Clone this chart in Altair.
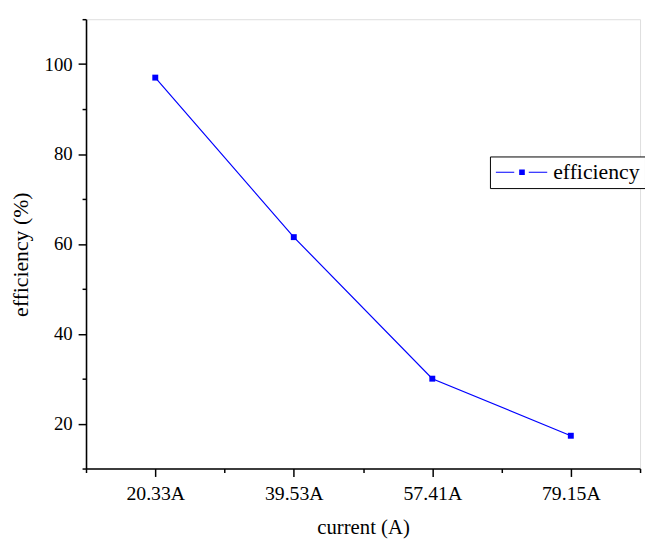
import altair as alt
import pandas as pd

# ---- data ----
categories = ["20.33A", "39.53A", "57.41A", "79.15A"]
efficiency = [97.0, 61.5, 30.0, 17.3]
series = ["efficiency", "efficiency", "efficiency", "efficiency"]
y_major = [20, 40, 60, 80, 100]
y_minor = [10, 30, 50, 70, 90, 110]
x_major = [1, 2, 3, 4]
x_minor = [0.5, 1.5, 2.5, 3.5, 4.5]

df = pd.DataFrame({
    "pos": list(range(1, len(categories) + 1)),
    "category": categories,
    "efficiency": efficiency,
    "series": series,
})

FONT = "Liberation Serif"
BLUE = "#0000ff"
label_expr = "[" + ",".join(f"'{c}'" for c in categories) + "][datum.value - 1]"

x_scale = alt.Scale(domain=[0.5, 4.5], nice=False, zero=False)
y_scale = alt.Scale(domain=[10, 110], nice=False, zero=False)

axis_common = dict(
    grid=False, domainColor="black", domainWidth=1.6, tickColor="black",
    tickWidth=1.5, labelFont=FONT, labelColor="black", titleFont=FONT,
    titleColor="black", titleFontWeight="normal",
)

x_main = alt.X("pos:Q", scale=x_scale, axis=alt.Axis(
    orient="bottom", values=x_major, labelExpr=label_expr, tickSize=8,
    labelFontSize=20, labelPadding=7, title="current (A)", titleFontSize=21,
    titlePadding=14, **axis_common))
y_main = alt.Y("efficiency:Q", scale=y_scale, axis=alt.Axis(
    orient="left", values=y_major, tickSize=8, labelFontSize=19,
    labelPadding=6, title="efficiency (%)", titleFontSize=22,
    titlePadding=12, titleY=238, **axis_common))

line = alt.Chart(df).mark_line(color=BLUE, strokeWidth=1.2).encode(
    x=x_main, y=y_main)

# legend symbol: line - square - line, drawn with a custom path (unit = 10 px)
legend_path = ("M-1,-0.06H0.86V0.06H-1Z "
               "M1.36,-0.28H1.93V0.28H1.36Z "
               "M2.33,-0.06H4.2V0.06H2.33Z")

points = alt.Chart(df).mark_point(
    shape="square", filled=True, size=36, opacity=1).encode(
    x=alt.X("pos:Q", scale=x_scale, axis=None),
    y=alt.Y("efficiency:Q", scale=y_scale, axis=None),
    color=alt.Color("series:N", scale=alt.Scale(range=[BLUE]), legend=alt.Legend(
        title=None, orient="none", legendX=409, legendY=139,
        symbolType=legend_path, symbolSize=400, symbolStrokeWidth=0,
        symbolOpacity=1, labelFont=FONT, labelFontSize=22, labelColor="black",
        labelOffset=37, strokeColor="black", fillColor="white", padding=5)),
)

minor = alt.Chart(df).mark_point(opacity=0).encode(
    x=alt.X("pos:Q", scale=x_scale, axis=alt.Axis(
        orient="bottom", values=x_minor, labels=False, title=None, tickSize=4,
        domain=False, grid=False, tickColor="black", tickWidth=1.5)),
    y=alt.Y("efficiency:Q", scale=y_scale, axis=alt.Axis(
        orient="left", values=y_minor, labels=False, title=None, tickSize=4,
        domain=False, grid=False, tickColor="black", tickWidth=1.5)),
)

chart = alt.layer(line, points, minor).resolve_axis(
    x="independent", y="independent"
).properties(
    width=561, height=455,
    autosize=alt.AutoSizeParams(type="none"),
    padding={"left": 79, "top": 8, "right": 5, "bottom": 68},
).configure_view(stroke=None).configure(background="white")

chart.save("out.html", embed_options={"renderer": "svg", "actions": False})
